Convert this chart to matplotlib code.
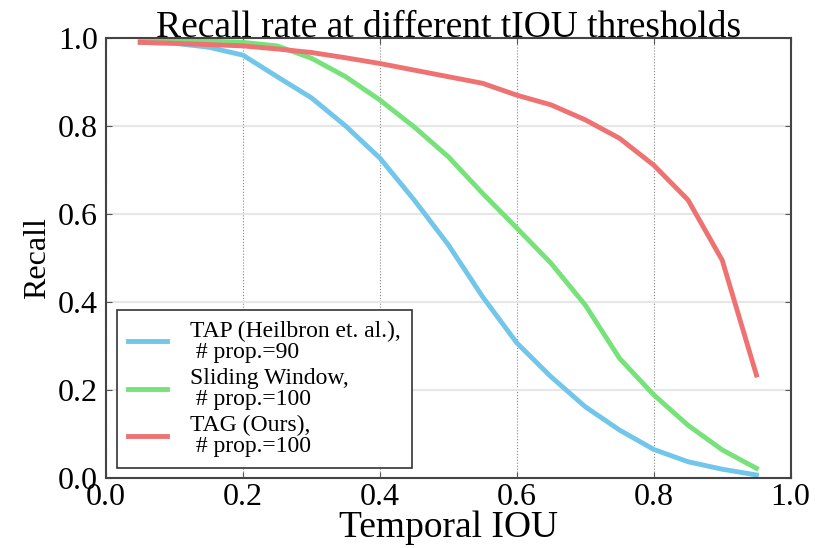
import numpy as np
import matplotlib
matplotlib.use("Agg")
import matplotlib.pyplot as plt

plt.rcParams['font.family'] = ['Liberation Serif', 'DejaVu Serif']

# tIOU thresholds
tiou = [0.05, 0.10, 0.15, 0.20, 0.25, 0.30, 0.35, 0.40, 0.45, 0.50,
        0.55, 0.60, 0.65, 0.70, 0.75, 0.80, 0.85, 0.90, 0.95]

recall_tap = [0.990, 0.988, 0.979, 0.961, 0.912, 0.864, 0.800, 0.727, 0.632, 0.530,
              0.412, 0.307, 0.230, 0.162, 0.109, 0.065, 0.037, 0.020, 0.007]
recall_sw = [0.995, 0.994, 0.993, 0.990, 0.982, 0.954, 0.912, 0.859, 0.798, 0.730,
             0.647, 0.568, 0.488, 0.393, 0.272, 0.189, 0.120, 0.064, 0.022]
recall_tag = [0.990, 0.988, 0.985, 0.982, 0.975, 0.967, 0.955, 0.942, 0.927, 0.912,
              0.897, 0.870, 0.848, 0.814, 0.772, 0.711, 0.632, 0.495, 0.234]

labels = ['TAP (Heilbron et. al.),\n # prop.=90',
          'Sliding Window,\n # prop.=100',
          'TAG (Ours),\n # prop.=100']
colors = ['#72c6ea', '#78e27a', '#ef7272']

fig = plt.figure(figsize=(8.18, 5.48), dpi=100)
ax = fig.add_axes([0.1296, 0.1277, 0.8370, 0.8030])

for y, lab, c in zip([recall_tap, recall_sw, recall_tag], labels, colors):
    ax.plot(tiou, y, color=c, lw=3.5, label=lab)

ax.set_xlim(0, 1)
ax.set_ylim(0, 1)
ax.set_xticks(np.arange(0, 1.01, 0.2))
ax.set_yticks(np.arange(0, 1.01, 0.2))
ax.xaxis.grid(True, linestyle=':', color='#888888', lw=0.8)
ax.yaxis.grid(True, linestyle='-', color='#e6e6e6', lw=1.5)
ax.set_axisbelow(True)
ax.tick_params(direction='in', top=True, right=True, length=4, labelsize=23, color='#555555')
ax.tick_params(axis='y', pad=6)
for s in ax.spines.values():
    s.set_color('#444444')
    s.set_linewidth(1.5)

ax.set_title('Recall rate at different tIOU thresholds', fontsize=27, pad=1)
ax.set_xlabel('Temporal IOU', fontsize=27, labelpad=-1)
ax.set_ylabel('Recall', fontsize=23, labelpad=4)

leg = ax.legend(loc='lower left', bbox_to_anchor=(0.016, 0.023), fontsize=17,
                fancybox=False, framealpha=1, edgecolor='#333333',
                handlelength=1.65, labelspacing=0.22, borderaxespad=0, borderpad=0.45,
                handletextpad=1.0)
leg.get_frame().set_linewidth(1.2)
for t in leg.get_texts():
    t.set_linespacing(1.0)

fig.savefig('out.png', dpi=100)
